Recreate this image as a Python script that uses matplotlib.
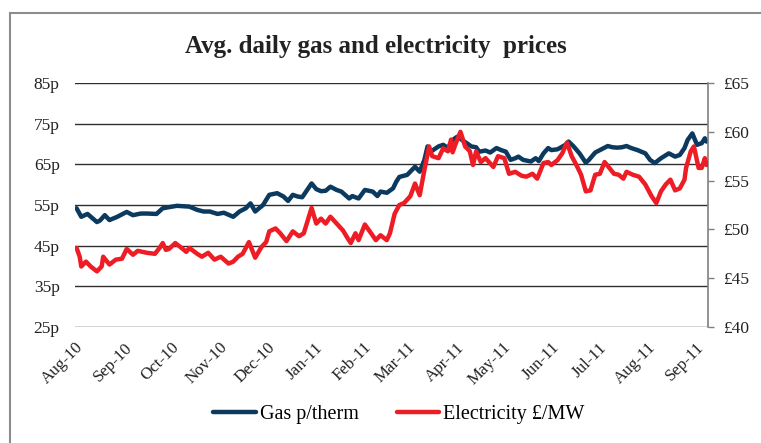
import matplotlib
matplotlib.use("Agg")
import matplotlib.pyplot as plt
import matplotlib.dates as mdates
import matplotlib.transforms as mtransforms
from matplotlib.patches import Rectangle
import pandas as pd
import numpy as np

plt.rcParams['font.family'] = ['Liberation Serif', 'DejaVu Serif']

# ---- data (day offsets from 1 Aug 2010) ----
start = pd.Timestamp('2010-08-01')

gas_day = [1, 4, 8, 14, 16, 19, 22, 27, 33, 37, 42, 46, 52, 56, 65, 73, 78, 82, 86, 91,
           95, 101, 105, 109, 112, 115, 120, 124, 129, 133, 136, 139, 142, 145, 151, 154,
           157, 160, 163, 167, 170, 175, 177, 181, 185, 190, 193, 195, 199, 203, 205, 207,
           212, 215, 217, 220, 223, 225, 227, 232, 235, 238, 241, 244, 247, 250, 253, 256,
           258, 262, 265, 269, 272, 275, 278, 281, 283, 286, 291, 294, 296, 299, 302, 304,
           308, 313, 315, 318, 322, 326, 328, 332, 335, 340, 343, 346, 349, 352, 355, 359,
           364, 367, 370, 374, 379, 383, 386, 389, 391, 394, 397, 400, 402, 403]
gas_price = [54.2, 52.1, 52.8, 50.8, 51.2, 52.5, 51.3, 52.1, 53.3, 52.5, 52.9, 52.9, 52.8,
             54.2, 54.8, 54.6, 53.8, 53.4, 53.4, 52.8, 53.1, 52.1, 53.4, 54.2, 55.4, 53.4,
             55.0, 57.5, 57.9, 57.1, 56.0, 57.5, 57.1, 56.9, 60.3, 58.9, 58.4, 58.5, 59.5,
             58.7, 58.3, 56.6, 57.2, 56.6, 58.7, 58.3, 57.2, 58.3, 58.0, 59.1, 60.7, 61.9,
             62.4, 63.6, 64.4, 63.2, 66.1, 69.4, 68.1, 69.4, 69.8, 69.0, 71.0, 71.8, 71.0,
             70.2, 69.4, 69.2, 68.1, 68.4, 67.9, 69.0, 68.5, 68.1, 66.1, 66.5, 66.9, 66.1,
             65.7, 66.5, 65.8, 67.7, 69.0, 68.5, 68.7, 69.8, 70.6, 69.5, 67.7, 65.4, 66.1,
             67.9, 68.5, 69.5, 69.2, 69.1, 69.2, 69.5, 69.0, 68.5, 67.7, 66.1, 65.3, 66.5,
             67.7, 66.9, 67.3, 69.0, 71.0, 72.6, 69.8, 70.2, 71.4, 70.6]

elec_day = [1, 3, 4, 7, 10, 14, 17, 18, 22, 26, 30, 33, 37, 40, 46, 51, 54, 56, 58, 60,
            64, 68, 71, 73, 78, 81, 85, 89, 93, 98, 101, 104, 107, 111, 115, 119, 122, 124,
            128, 131, 135, 139, 143, 146, 151, 154, 157, 160, 163, 167, 171, 174, 176, 179,
            181, 185, 189, 192, 195, 199, 201, 204, 207, 210, 214, 217, 220, 223, 226, 228,
            232, 235, 238, 240, 241, 243, 246, 249, 252, 254, 256, 259, 262, 267, 270, 274,
            277, 281, 285, 288, 292, 295, 299, 302, 304, 308, 311, 314, 317, 320, 323, 326,
            329, 332, 335, 338, 341, 344, 347, 350, 352, 356, 360, 364, 368, 371, 374, 377,
            380, 383, 386, 389, 390, 393, 395, 398, 400, 402, 403]
elec_price = [48.1, 47.2, 46.2, 46.7, 46.2, 45.7, 46.2, 47.2, 46.4, 46.9, 47.0, 48.0, 47.4,
              47.8, 47.6, 47.5, 48.1, 48.6, 47.9, 48.0, 48.6, 48.1, 47.7, 48.1, 47.5, 47.2,
              47.6, 46.9, 47.2, 46.5, 46.7, 47.2, 47.5, 48.7, 47.1, 48.2, 48.7, 49.8, 50.1,
              49.6, 48.8, 49.8, 49.3, 49.6, 52.2, 50.6, 51.1, 50.6, 51.3, 50.6, 49.9, 49.1,
              48.6, 49.6, 48.9, 50.5, 49.6, 48.9, 49.4, 48.9, 49.6, 51.6, 52.5, 52.7, 53.4,
              54.7, 53.5, 56.1, 58.5, 57.5, 57.3, 58.3, 58.0, 59.2, 57.9, 58.8, 60.0, 58.5,
              58.0, 56.6, 58.0, 56.9, 57.3, 56.4, 57.5, 57.3, 55.7, 55.9, 55.5, 55.4, 55.7,
              55.2, 56.8, 56.9, 56.6, 57.1, 57.8, 58.9, 57.5, 56.6, 55.6, 53.9, 54.0, 55.6,
              55.7, 56.9, 56.3, 55.7, 55.6, 55.2, 55.9, 55.6, 55.4, 54.6, 53.4, 52.7, 53.9,
              54.6, 55.1, 54.0, 54.2, 55.1, 56.3, 58.0, 58.5, 56.3, 56.3, 57.3, 56.6]

left_ticks = [25, 35, 45, 55, 65, 75, 85]
right_ticks = [40, 45, 50, 55, 60, 65]
month_ticks = pd.date_range('2010-08-01', '2011-09-01', freq='MS')
series_names = ['Gas p/therm', 'Electricity \u00a3/MW']
title = 'Avg. daily gas and electricity  prices'

gas_dates = start + pd.to_timedelta(gas_day, unit='D')
elec_dates = start + pd.to_timedelta(elec_day, unit='D')

# ---- figure ----
W, H = 761, 443
fig = plt.figure(figsize=(W / 100, H / 100), dpi=100)
ax = fig.add_axes([75 / W, (H - 327) / H, 633 / W, 244 / H])
ax2 = ax.twinx()

gas_color = '#0c3a5f'
elec_color = '#ee1c25'

l1, = ax.plot(gas_dates, gas_price, color=gas_color, lw=3.2, solid_joinstyle='round',
              solid_capstyle='round', zorder=3)
l2, = ax2.plot(elec_dates, elec_price, color=elec_color, lw=3.2, solid_joinstyle='round',
               solid_capstyle='round', zorder=3)

ax.set_xlim(start, start + pd.Timedelta(days=404))
ax.set_ylim(25, 85)
ax2.set_ylim(40, 65)

ax.set_yticks(left_ticks)
ax.set_yticklabels([f'{v}p' for v in left_ticks])
ax2.set_yticks(right_ticks)
ax2.set_yticklabels([f'\u00a3{v}' for v in right_ticks])

ax.yaxis.grid(True, color='#2e2e2e', lw=1.0)
ax.set_axisbelow(True)

for a in (ax, ax2):
    for s in ('top', 'left', 'bottom', 'right'):
        a.spines[s].set_visible(False)
ax2.spines['right'].set_visible(True)
ax2.spines['right'].set_color('#7f7f7f')
ax2.spines['right'].set_linewidth(1.2)

ax.tick_params(axis='y', length=0, pad=11, labelsize=12.5, labelcolor='#222222')
ax2.tick_params(axis='y', length=4, width=1.0, color='#7f7f7f', pad=7,
                labelsize=12.5, labelcolor='#222222')

ax.set_xticks(month_ticks)
ax.xaxis.set_major_formatter(mdates.DateFormatter('%b-%y'))
ax.tick_params(axis='x', length=0, pad=9, labelsize=12.2, labelcolor='#222222')
offset = mtransforms.ScaledTranslation(0.5 / 100, 0, fig.dpi_scale_trans)
for lbl in ax.get_xticklabels():
    lbl.set_rotation(45)
    lbl.set_ha('right')
    lbl.set_va('top')
    lbl.set_rotation_mode('anchor')
    lbl.set_transform(lbl.get_transform() + offset)

fig.text(376 / W, (H - 47) / H, title, ha='center', va='center',
         fontsize=18, fontweight='bold', color='#222222')

fig.legend([l1, l2], series_names, loc='center', bbox_to_anchor=(399 / W, 29 / H),
           ncol=2, frameon=False, fontsize=14.5, handlelength=2.1, handletextpad=0.2,
           columnspacing=1.9)

fig.patches.append(Rectangle((10 / W, -0.1), 1.2, (H - 13) / H + 0.1,
                             transform=fig.transFigure, fill=False,
                             edgecolor='#8c8c8c', lw=1.5))

fig.savefig('out.png', dpi=100)
